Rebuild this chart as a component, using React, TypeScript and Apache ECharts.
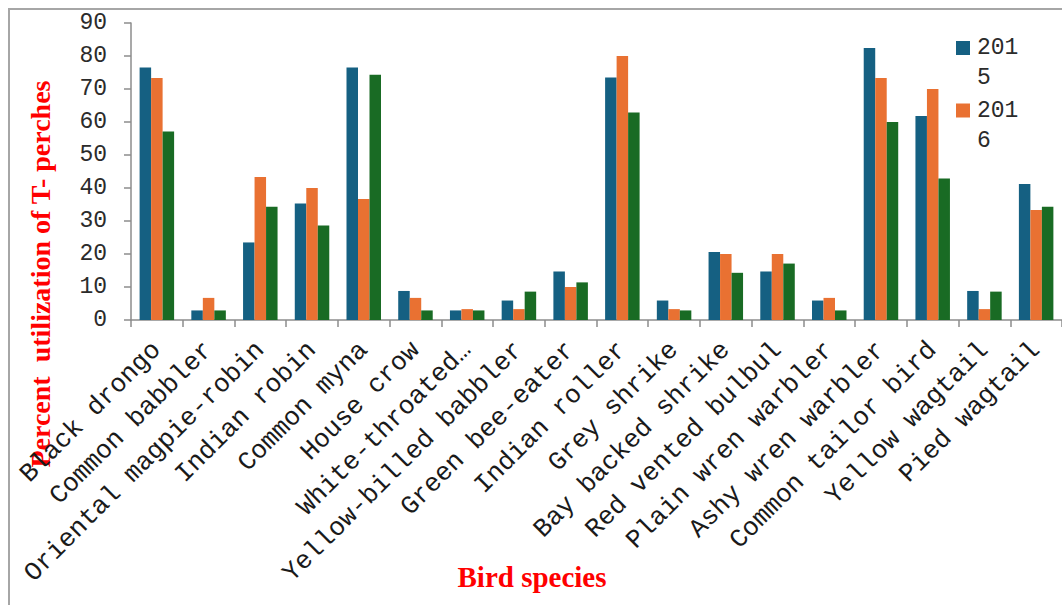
import React, { useEffect, useRef } from "react";
import * as echarts from "echarts";

const categories = [
  "Black drongo",
  "Common babbler",
  "Oriental magpie-robin",
  "Indian robin",
  "Common myna",
  "House crow",
  "White-throated…",
  "Yellow-billed babbler",
  "Green bee-eater",
  "Indian roller",
  "Grey shrike",
  "Bay backed shrike",
  "Red vented bulbul",
  "Plain wren warbler",
  "Ashy wren warbler",
  "Common tailor bird",
  "Yellow wagtail",
  "Pied wagtail",
];

const seriesNames = ["2015", "2016", "2017"];
const seriesColors = ["#156082", "#E97132", "#196B24"];

const values2015 = [76.5, 2.9, 23.5, 35.3, 76.5, 8.8, 2.9, 5.9, 14.7, 73.5, 5.9, 20.6, 14.7, 5.9, 82.4, 61.8, 8.8, 41.2];
const values2016 = [73.3, 6.7, 43.3, 40, 36.7, 6.7, 3.3, 3.3, 10, 80, 3.3, 20, 20, 6.7, 73.3, 70, 3.3, 33.3];
const values2017 = [57.1, 2.9, 34.3, 28.6, 74.3, 2.9, 2.9, 8.6, 11.4, 62.9, 2.9, 14.3, 17.1, 2.9, 60, 42.9, 8.6, 34.3];

const legendShown = ["2015", "2016"];

const yTitle = "Percent  utilization of T- perches";
const xTitle = "Bird species";

export default function App() {
  const ref = useRef<HTMLDivElement>(null);

  useEffect(() => {
    if (!ref.current) return;
    const chart = echarts.init(ref.current, undefined, { renderer: "svg" });
    const allValues = [values2015, values2016, values2017];

    const legendGraphics: any[] = [];
    legendShown.forEach((name, i) => {
      const idx = seriesNames.indexOf(name);
      const cy = 48 + i * 62.5;
      legendGraphics.push({
        type: "rect",
        shape: { x: 956, y: cy - 7, width: 14, height: 14 },
        style: { fill: seriesColors[idx] },
      });
      legendGraphics.push({
        type: "text",
        x: 977,
        y: cy - 15,
        style: {
          text: name.slice(0, 3) + "\n" + name.slice(3),
          fontFamily: "Liberation Mono",
          fontSize: 23,
          lineHeight: 30,
          fill: "#2b2b2b",
          textAlign: "left",
          textVerticalAlign: "top",
        },
      });
    });

    chart.setOption({
      animation: false,
      backgroundColor: "#ffffff",
      grid: { left: 131, right: 0, top: 23, bottom: 285, containLabel: false, outerBoundsMode: "none" },
      xAxis: {
        type: "category",
        data: categories,
        axisLine: { show: true, lineStyle: { color: "#8c8c8c", width: 1.5 } },
        axisTick: { show: true, length: 7, lineStyle: { color: "#8c8c8c", width: 1.5 } },
        axisLabel: {
          interval: 0,
          rotate: 45,
          margin: 26,
          fontFamily: "Liberation Mono",
          fontSize: 26,
          color: "#1a1a1a",
        },
        splitLine: { show: false },
      },
      yAxis: {
        type: "value",
        min: 0,
        max: 90,
        interval: 10,
        axisLine: { show: true, lineStyle: { color: "#8c8c8c", width: 1.5 } },
        axisTick: { show: true, length: 7, lineStyle: { color: "#8c8c8c", width: 1.5 } },
        axisLabel: {
          margin: 24,
          fontFamily: "Liberation Mono",
          fontSize: 23,
          color: "#2b2b2b",
        },
        splitLine: { show: false },
      },
      series: seriesNames.map((name, i) => ({
        name,
        type: "bar",
        data: allValues[i],
        barWidth: 11.5,
        barGap: "0%",
        itemStyle: { color: seriesColors[i] },
      })),
      graphic: [
        {
          type: "polyline",
          shape: { points: [[9, 700], [9, 9], [1100, 9]] },
          style: { stroke: "#a6a6a6", lineWidth: 2, fill: "none" },
        },
        {
          type: "text",
          x: 40,
          y: 274,
          rotation: Math.PI / 2,
          style: {
            text: yTitle,
            fontFamily: "Liberation Serif",
            fontWeight: "bold",
            fontSize: 28,
            fill: "#ff0000",
            textAlign: "center",
            textVerticalAlign: "middle",
          },
        },
        {
          type: "text",
          x: 532,
          y: 577,
          style: {
            text: xTitle,
            fontFamily: "Liberation Serif",
            fontWeight: "bold",
            fontSize: 29,
            fill: "#ff0000",
            textAlign: "center",
            textVerticalAlign: "middle",
          },
        },
        ...legendGraphics,
      ],
    });

    return () => {
      chart.dispose();
    };
  }, []);

  return (
    <div
      ref={ref}
      style={{ position: "absolute", left: 0, top: 0, width: 1062, height: 605 }}
    />
  );
}
